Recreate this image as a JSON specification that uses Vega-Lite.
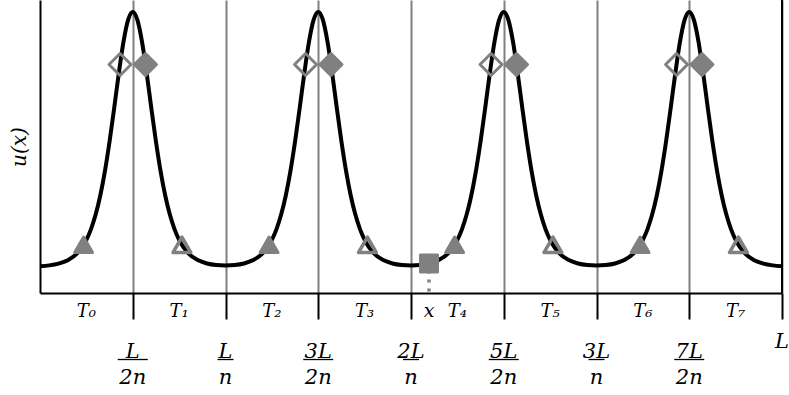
{
  "$schema": "https://vega.github.io/schema/vega-lite/v6.json",
  "width": 742,
  "height": 293,
  "autosize": {"type": "none"},
  "padding": {"left": 40, "top": 0, "right": 7, "bottom": 102},
  "background": "white",
  "config": {
    "view": {"stroke": null},
    "axisX": {
      "labels": false, "ticks": true, "tickSize": 26, "tickWidth": 2, "tickColor": "black",
      "domain": true, "domainColor": "black", "domainWidth": 2,
      "grid": true, "gridColor": "#808080", "gridWidth": 2, "gridOpacity": 1
    },
    "axisY": {
      "labels": false, "ticks": false, "grid": false,
      "domain": true, "domainColor": "black", "domainWidth": 2,
      "titleFont": "DejaVu Serif", "titleFontStyle": "italic", "titleFontWeight": "normal",
      "titleFontSize": 20, "titleColor": "black", "titlePadding": 11
    }
  },
  "datasets": {
    "curve": [
      {"x": 0, "u": 0.0032}, {"x": 0.1, "u": 0.0064}, {"x": 0.2, "u": 0.0131}, {"x": 0.3, "u": 0.0266}, {"x": 0.4, "u": 0.0536},
      {"x": 0.45, "u": 0.0757}, {"x": 0.5, "u": 0.1064}, {"x": 0.55, "u": 0.1486}, {"x": 0.6, "u": 0.2055}, {"x": 0.65, "u": 0.2804}, {"x": 0.7, "u": 0.3759}, {"x": 0.75, "u": 0.4919}, {"x": 0.8, "u": 0.6237}, {"x": 0.85, "u": 0.7602}, {"x": 0.9, "u": 0.8826}, {"x": 0.95, "u": 0.9688},
      {"x": 1, "u": 1},
      {"x": 1.05, "u": 0.9688}, {"x": 1.1, "u": 0.8826}, {"x": 1.15, "u": 0.7602}, {"x": 1.2, "u": 0.6237}, {"x": 1.25, "u": 0.4919}, {"x": 1.3, "u": 0.3759}, {"x": 1.35, "u": 0.2804}, {"x": 1.4, "u": 0.2055}, {"x": 1.45, "u": 0.1486}, {"x": 1.5, "u": 0.1064}, {"x": 1.55, "u": 0.0757},
      {"x": 1.6, "u": 0.0538}, {"x": 1.7, "u": 0.027}, {"x": 1.8, "u": 0.0139}, {"x": 1.9, "u": 0.008}, {"x": 2, "u": 0.0063}, {"x": 2.1, "u": 0.008}, {"x": 2.2, "u": 0.0139}, {"x": 2.3, "u": 0.027}, {"x": 2.4, "u": 0.0538},
      {"x": 2.45, "u": 0.0757}, {"x": 2.5, "u": 0.1064}, {"x": 2.55, "u": 0.1486}, {"x": 2.6, "u": 0.2055}, {"x": 2.65, "u": 0.2804}, {"x": 2.7, "u": 0.3759}, {"x": 2.75, "u": 0.4919}, {"x": 2.8, "u": 0.6237}, {"x": 2.85, "u": 0.7602}, {"x": 2.9, "u": 0.8826}, {"x": 2.95, "u": 0.9688},
      {"x": 3, "u": 1},
      {"x": 3.05, "u": 0.9688}, {"x": 3.1, "u": 0.8826}, {"x": 3.15, "u": 0.7602}, {"x": 3.2, "u": 0.6237}, {"x": 3.25, "u": 0.4919}, {"x": 3.3, "u": 0.3759}, {"x": 3.35, "u": 0.2804}, {"x": 3.4, "u": 0.2055}, {"x": 3.45, "u": 0.1486}, {"x": 3.5, "u": 0.1064}, {"x": 3.55, "u": 0.0757},
      {"x": 3.6, "u": 0.0538}, {"x": 3.7, "u": 0.027}, {"x": 3.8, "u": 0.0139}, {"x": 3.9, "u": 0.008}, {"x": 4, "u": 0.0063}, {"x": 4.1, "u": 0.008}, {"x": 4.2, "u": 0.0139}, {"x": 4.3, "u": 0.027}, {"x": 4.4, "u": 0.0538},
      {"x": 4.45, "u": 0.0757}, {"x": 4.5, "u": 0.1064}, {"x": 4.55, "u": 0.1486}, {"x": 4.6, "u": 0.2055}, {"x": 4.65, "u": 0.2804}, {"x": 4.7, "u": 0.3759}, {"x": 4.75, "u": 0.4919}, {"x": 4.8, "u": 0.6237}, {"x": 4.85, "u": 0.7602}, {"x": 4.9, "u": 0.8826}, {"x": 4.95, "u": 0.9688},
      {"x": 5, "u": 1},
      {"x": 5.05, "u": 0.9688}, {"x": 5.1, "u": 0.8826}, {"x": 5.15, "u": 0.7602}, {"x": 5.2, "u": 0.6237}, {"x": 5.25, "u": 0.4919}, {"x": 5.3, "u": 0.3759}, {"x": 5.35, "u": 0.2804}, {"x": 5.4, "u": 0.2055}, {"x": 5.45, "u": 0.1486}, {"x": 5.5, "u": 0.1064}, {"x": 5.55, "u": 0.0757},
      {"x": 5.6, "u": 0.0538}, {"x": 5.7, "u": 0.027}, {"x": 5.8, "u": 0.0139}, {"x": 5.9, "u": 0.008}, {"x": 6, "u": 0.0063}, {"x": 6.1, "u": 0.008}, {"x": 6.2, "u": 0.0139}, {"x": 6.3, "u": 0.027}, {"x": 6.4, "u": 0.0538},
      {"x": 6.45, "u": 0.0757}, {"x": 6.5, "u": 0.1064}, {"x": 6.55, "u": 0.1486}, {"x": 6.6, "u": 0.2055}, {"x": 6.65, "u": 0.2804}, {"x": 6.7, "u": 0.3759}, {"x": 6.75, "u": 0.4919}, {"x": 6.8, "u": 0.6237}, {"x": 6.85, "u": 0.7602}, {"x": 6.9, "u": 0.8826}, {"x": 6.95, "u": 0.9688},
      {"x": 7, "u": 1},
      {"x": 7.05, "u": 0.9688}, {"x": 7.1, "u": 0.8826}, {"x": 7.15, "u": 0.7602}, {"x": 7.2, "u": 0.6237}, {"x": 7.25, "u": 0.4919}, {"x": 7.3, "u": 0.3759}, {"x": 7.35, "u": 0.2804}, {"x": 7.4, "u": 0.2055}, {"x": 7.45, "u": 0.1486}, {"x": 7.5, "u": 0.1064}, {"x": 7.55, "u": 0.0757},
      {"x": 7.6, "u": 0.0536}, {"x": 7.7, "u": 0.0266}, {"x": 7.8, "u": 0.0131}, {"x": 7.9, "u": 0.0064}, {"x": 8, "u": 0.0032}
    ],
    "markers": [
      {"x": 0.863, "u": 0.794, "kind": "open-diamond"},
      {"x": 2.863, "u": 0.794, "kind": "open-diamond"},
      {"x": 4.863, "u": 0.794, "kind": "open-diamond"},
      {"x": 6.863, "u": 0.794, "kind": "open-diamond"},
      {"x": 1.137, "u": 0.794, "kind": "filled-diamond"},
      {"x": 3.137, "u": 0.794, "kind": "filled-diamond"},
      {"x": 5.137, "u": 0.794, "kind": "filled-diamond"},
      {"x": 7.137, "u": 0.794, "kind": "filled-diamond"},
      {"x": 0.47, "u": 0.087, "kind": "filled-triangle"},
      {"x": 2.47, "u": 0.087, "kind": "filled-triangle"},
      {"x": 4.47, "u": 0.087, "kind": "filled-triangle"},
      {"x": 6.47, "u": 0.087, "kind": "filled-triangle"},
      {"x": 1.53, "u": 0.087, "kind": "open-triangle"},
      {"x": 3.53, "u": 0.087, "kind": "open-triangle"},
      {"x": 5.53, "u": 0.087, "kind": "open-triangle"},
      {"x": 7.53, "u": 0.087, "kind": "open-triangle"},
      {"x": 4.194, "u": 0.0134, "kind": "probe"}
    ],
    "ticklabels": [
      {"x": 1, "num": "L", "den": "2n"},
      {"x": 2, "num": "L", "den": "n"},
      {"x": 3, "num": "3L", "den": "2n"},
      {"x": 4, "num": "2L", "den": "n"},
      {"x": 5, "num": "5L", "den": "2n"},
      {"x": 6, "num": "3L", "den": "n"},
      {"x": 7, "num": "7L", "den": "2n"},
      {"x": 8, "num": "L", "den": ""}
    ],
    "intervals": [
      {"x": 0.5, "label": "T₀"},
      {"x": 1.5, "label": "T₁"},
      {"x": 2.5, "label": "T₂"},
      {"x": 3.5, "label": "T₃"},
      {"x": 4.5, "label": "T₄"},
      {"x": 5.5, "label": "T₅"},
      {"x": 6.5, "label": "T₆"},
      {"x": 7.5, "label": "T₇"}
    ],
    "edges": [
      {"x": 8}
    ]
  },
  "layer": [
    {
      "data": {"name": "curve"},
      "mark": {"type": "line", "color": "black", "strokeWidth": 4, "interpolate": "monotone", "strokeJoin": "round"},
      "encoding": {
        "x": {
          "field": "x", "type": "quantitative",
          "scale": {"domain": [0, 8], "nice": false, "zero": false},
          "axis": {"values": [1, 2, 3, 4, 5, 6, 7, 8], "title": null}
        },
        "y": {
          "field": "u", "type": "quantitative",
          "scale": {"domain": [-0.102, 1.047], "nice": false, "zero": false},
          "axis": {"title": "u(x)"}
        }
      }
    },
    {
      "data": {"name": "edges"},
      "mark": {"type": "rule", "color": "black", "strokeWidth": 2},
      "encoding": {
        "x": {"field": "x", "type": "quantitative"}
      }
    },
    {
      "data": {"name": "markers"},
      "transform": [{"filter": "datum.kind === 'probe'"}],
      "mark": {"type": "rule", "color": "#808080", "strokeWidth": 3.5, "strokeDash": [3, 6], "strokeDashOffset": 2},
      "encoding": {
        "x": {"field": "x", "type": "quantitative"},
        "y": {"field": "u", "type": "quantitative"},
        "y2": {"datum": -0.102}
      }
    },
    {
      "data": {"name": "markers"},
      "transform": [{"filter": "datum.kind === 'open-diamond'"}],
      "mark": {"type": "point", "shape": "diamond", "filled": false, "color": "#808080", "strokeWidth": 3, "size": 484, "opacity": 1, "strokeJoin": "round"},
      "encoding": {
        "x": {"field": "x", "type": "quantitative"},
        "y": {"field": "u", "type": "quantitative"}
      }
    },
    {
      "data": {"name": "markers"},
      "transform": [{"filter": "datum.kind === 'filled-diamond'"}],
      "mark": {"type": "point", "shape": "diamond", "filled": true, "fill": "#808080", "stroke": "#808080", "strokeWidth": 3, "size": 484, "opacity": 1, "strokeJoin": "round"},
      "encoding": {
        "x": {"field": "x", "type": "quantitative"},
        "y": {"field": "u", "type": "quantitative"}
      }
    },
    {
      "data": {"name": "markers"},
      "transform": [{"filter": "datum.kind === 'filled-triangle'"}],
      "mark": {"type": "point", "shape": "triangle-up", "filled": true, "fill": "#808080", "stroke": "#808080", "strokeWidth": 3, "size": 320, "opacity": 1, "strokeJoin": "round"},
      "encoding": {
        "x": {"field": "x", "type": "quantitative"},
        "y": {"field": "u", "type": "quantitative"}
      }
    },
    {
      "data": {"name": "markers"},
      "transform": [{"filter": "datum.kind === 'open-triangle'"}],
      "mark": {"type": "point", "shape": "triangle-up", "filled": false, "color": "#808080", "strokeWidth": 3.5, "size": 320, "opacity": 1, "strokeJoin": "round"},
      "encoding": {
        "x": {"field": "x", "type": "quantitative"},
        "y": {"field": "u", "type": "quantitative"}
      }
    },
    {
      "data": {"name": "markers"},
      "transform": [{"filter": "datum.kind === 'probe'"}],
      "mark": {"type": "point", "shape": "square", "filled": true, "fill": "#808080", "stroke": "#808080", "strokeWidth": 3, "size": 289, "opacity": 1, "strokeJoin": "round"},
      "encoding": {
        "x": {"field": "x", "type": "quantitative"},
        "y": {"field": "u", "type": "quantitative"}
      }
    },
    {
      "data": {"name": "markers"},
      "transform": [{"filter": "datum.kind === 'probe'"}],
      "mark": {"type": "text", "font": "DejaVu Serif", "fontStyle": "italic", "fontSize": 19, "color": "black", "align": "center", "baseline": "alphabetic"},
      "encoding": {
        "x": {"field": "x", "type": "quantitative"},
        "y": {"datum": -0.196},
        "text": {"value": "x"}
      }
    },
    {
      "data": {"name": "intervals"},
      "mark": {"type": "text", "font": "DejaVu Serif", "fontStyle": "italic", "fontSize": 18, "color": "black", "align": "center", "baseline": "alphabetic"},
      "encoding": {
        "x": {"field": "x", "type": "quantitative"},
        "y": {"datum": -0.196},
        "text": {"field": "label"}
      }
    },
    {
      "data": {"name": "ticklabels"},
      "transform": [{"filter": "datum.den !== ''"}],
      "mark": {"type": "text", "font": "DejaVu Serif", "fontStyle": "italic", "fontSize": 21, "color": "black", "align": "center", "baseline": "alphabetic"},
      "encoding": {
        "x": {"field": "x", "type": "quantitative"},
        "y": {"datum": -0.355},
        "text": {"field": "num"}
      }
    },
    {
      "data": {"name": "ticklabels"},
      "transform": [{"filter": "datum.den !== ''"}],
      "mark": {"type": "text", "font": "DejaVu Serif", "fontStyle": "italic", "fontSize": 21, "color": "black", "align": "center", "baseline": "alphabetic"},
      "encoding": {
        "x": {"field": "x", "type": "quantitative"},
        "y": {"datum": -0.459},
        "text": {"field": "den"}
      }
    },
    {
      "data": {"name": "ticklabels"},
      "transform": [{"filter": "datum.den === '2n'"}],
      "mark": {"type": "rule", "color": "black", "strokeWidth": 1.3, "xOffset": -15, "x2Offset": 15},
      "encoding": {
        "x": {"field": "x", "type": "quantitative"},
        "x2": {"field": "x"},
        "y": {"datum": -0.3628}
      }
    },
    {
      "data": {"name": "ticklabels"},
      "transform": [{"filter": "datum.den === 'n'"}],
      "mark": {"type": "rule", "color": "black", "strokeWidth": 1.3, "xOffset": -8, "x2Offset": 8},
      "encoding": {
        "x": {"field": "x", "type": "quantitative"},
        "x2": {"field": "x"},
        "y": {"datum": -0.3628}
      }
    },
    {
      "data": {"name": "ticklabels"},
      "transform": [{"filter": "datum.den === ''"}],
      "mark": {"type": "text", "font": "DejaVu Serif", "fontStyle": "italic", "fontSize": 21, "color": "black", "align": "center", "baseline": "alphabetic"},
      "encoding": {
        "x": {"field": "x", "type": "quantitative"},
        "y": {"datum": -0.3177},
        "text": {"field": "num"}
      }
    }
  ]
}
